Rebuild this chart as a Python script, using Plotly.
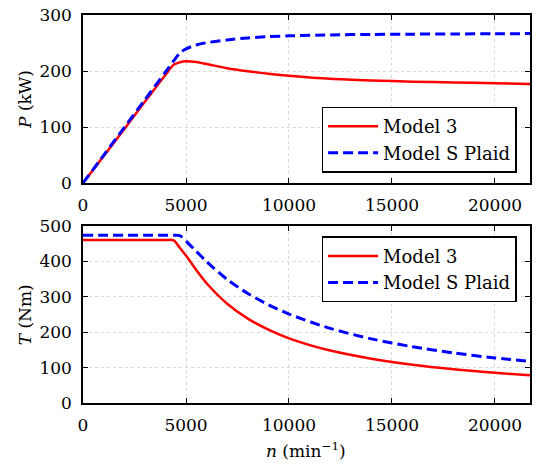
import plotly.graph_objects as go

# speed (min^-1)
n = [0, 1000, 2000, 3000, 4000, 4400, 4700, 5000, 5500, 6000, 7000, 8000,
     9000, 10000, 12000, 14000, 16000, 18000, 20000, 21700]

# power (kW)
p_model3 = [0, 48, 96, 145, 193, 211, 215.5, 217.5, 216, 212.5, 205, 199.5,
            195, 191.5, 186, 183, 181, 179.5, 178.3, 177]
p_plaid = [0, 49.5, 99, 148.6, 198, 218, 232, 239.5, 246.5, 250.5, 255.5, 259,
           261.3, 262.8, 264.5, 265.3, 265.8, 266.2, 266.5, 266.8]

# torque (Nm)
t_model3 = [460, 460, 460, 460, 460, 459, 438, 416, 375, 338, 280, 238,
            207, 182.5, 148, 125, 108, 95.2, 85.2, 78]
t_plaid = [473, 473, 473, 473, 473, 473, 472, 457, 428, 399, 348.5, 309,
           277.3, 251, 210.5, 181, 158.6, 141.2, 127.2, 117.4]

x_ticks = [0, 5000, 10000, 15000, 20000]
x_ticktext = ["0", "5000", "10000", "15000", "20000"]
p_ticks = [0, 100, 200, 300]
t_ticks = [0, 100, 200, 300, 400, 500]

RED = "#ff0000"
BLUE = "#0000ff"
FONT = "DejaVu Serif"
FS = 17
LFS = 18

fig = go.Figure()
fig.add_trace(go.Scatter(x=n, y=p_model3, name="Model 3", mode="lines",
                         line=dict(color=RED, width=2.5, shape="spline", smoothing=0.8),
                         xaxis="x", yaxis="y", legend="legend"))
fig.add_trace(go.Scatter(x=n, y=p_plaid, name="Model S Plaid", mode="lines",
                         line=dict(color=BLUE, width=3, dash="10px,5px", shape="spline", smoothing=0.8),
                         xaxis="x", yaxis="y", legend="legend"))
fig.add_trace(go.Scatter(x=n, y=t_model3, name="Model 3", mode="lines",
                         line=dict(color=RED, width=2.5, shape="spline", smoothing=0.8),
                         xaxis="x2", yaxis="y2", legend="legend2"))
fig.add_trace(go.Scatter(x=n, y=t_plaid, name="Model S Plaid", mode="lines",
                         line=dict(color=BLUE, width=3, dash="10px,5px", shape="spline", smoothing=0.8),
                         xaxis="x2", yaxis="y2", legend="legend2"))

axis_common = dict(showline=True, linecolor="black", linewidth=1.5, mirror="ticks",
                   ticks="inside", ticklen=5, tickcolor="black", tickwidth=1,
                   showgrid=True, gridcolor="#d9d9d9", griddash="dot", gridwidth=1,
                   zeroline=False, tickfont=dict(family=FONT, size=FS, color="black"),
                   ticklabelstandoff=6, automargin=False)

title_font = dict(family=FONT, size=FS, color="black")

fig.update_layout(
    width=539, height=468,
    margin=dict(l=83, r=9, t=15, b=65, autoexpand=False),
    paper_bgcolor="white", plot_bgcolor="white",
    font=dict(family=FONT, size=FS, color="black"),
    showlegend=True,
    xaxis=dict(domain=[0, 1], range=[0, 21700], tickvals=x_ticks, ticktext=x_ticktext,
               anchor="y", **axis_common),
    yaxis=dict(domain=[0.567, 1], range=[0, 300], tickvals=p_ticks, anchor="x", **axis_common),
    xaxis2=dict(domain=[0, 1], range=[0, 21700], tickvals=x_ticks, ticktext=x_ticktext,
                anchor="y2", **axis_common),
    yaxis2=dict(domain=[0, 0.4567], range=[0, 500], tickvals=t_ticks, anchor="x2", **axis_common),
    legend=dict(x=0.970, y=0.594, xanchor="right", yanchor="bottom",
                bordercolor="black", borderwidth=1.5, bgcolor="white",
                font=dict(family=FONT, size=LFS), tracegroupgap=0,
                itemwidth=50),
    legend2=dict(x=0.970, y=0.4296, xanchor="right", yanchor="top",
                 bordercolor="black", borderwidth=1.5, bgcolor="white",
                 font=dict(family=FONT, size=LFS), tracegroupgap=0,
                 itemwidth=50),
    annotations=[
        dict(text="<i>P</i> (kW)", xref="paper", yref="paper", x=-0.1298, y=0.7835,
             textangle=-90, showarrow=False, xanchor="center", yanchor="middle", font=title_font),
        dict(text="<i>T</i> (Nm)", xref="paper", yref="paper", x=-0.1298, y=0.2286,
             textangle=-90, showarrow=False, xanchor="center", yanchor="middle", font=title_font),
        dict(text="<i>n</i> (min<sup>−1</sup>)", xref="paper", yref="paper", x=0.4989, y=-0.122,
             showarrow=False, xanchor="center", yanchor="middle", font=title_font),
    ],
)

fig.write_html("out.html", config={"displayModeBar": False},
               post_script="document.body.style.margin='0';")
